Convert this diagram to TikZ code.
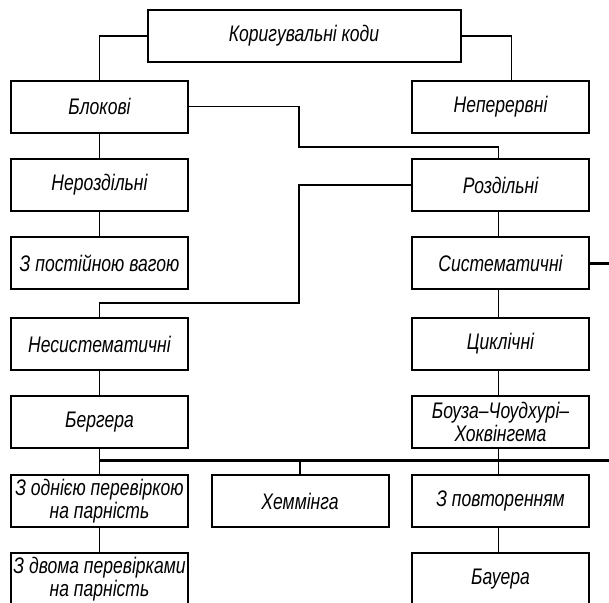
\documentclass[tikz,border=0pt]{standalone}
\usepackage{fontspec}
\setmainfont{Liberation Sans}[FakeStretch=0.78]

\begin{document}
\begin{tikzpicture}[x=1pt,y=-1pt,
  box/.style={draw, line width=2pt, minimum width=177pt, minimum height=52pt,
    inner sep=0pt, align=center, font=\fontsize{22.5}{23}\selectfont\itshape},
  link/.style={line width=1.8pt},
  bus/.style={line width=3pt}]
\useasboundingbox (0,0) rectangle (609,602);
\clip (0,0) rectangle (609,602);
\node[box, minimum width=313pt] (kod) at (304,36) {Коригувальні коди};
\node[box] (blok) at (99.5,106.5) {Блокові};
\node[box] (nep) at (500.5,106.5) {Неперервні};
\node[box] (nerozd) at (99.5,185) {Нероздільні};
\node[box] (rozd) at (500.5,185) {Роздільні};
\node[box] (postvag) at (99.5,263) {З постійною вагою};
\node[box] (system) at (500.5,263) {Систематичні};
\node[box] (nesys) at (99.5,344) {Несистематичні};
\node[box] (cykl) at (500.5,344) {Циклічні};
\node[box] (berg) at (99.5,422) {Бергера};
\node[box] (bch) at (500.5,422) {Боуза–Чоудхурі–\\Хоквінгема};
\node[box] (odna) at (99.5,501) {З однією перевіркою\\на парність};
\node[box] (hem) at (300,501) {Хеммінга};
\node[box] (povt) at (500.5,501) {З повторенням};
\node[box] (dvoma) at (99.5,579) {З двома перевірками\\на парність};
\node[box] (bauer) at (500.5,579) {Бауера};
\coordinate (k1) at (299,147);
\coordinate (k2) at (299,303);
\coordinate (sysend) at (615,263);
\coordinate (b0) at (99.5,460);
\coordinate (b1) at (615,460);
\draw[link] (kod.west) -| (blok.north);
\draw[link] (kod.east) -| ([xshift=11pt]nep.north);
\draw[link] (blok.east) -| (k1) -| ([xshift=-2pt]rozd.north);
\draw[link] (rozd.west) -| (k2) -| (nesys.north);
\draw[bus] (system.east) -- (sysend);
\draw[link] (blok) -- (nerozd) -- (postvag);
\draw[link] (nesys) -- (berg);
\draw[link] ([xshift=-2pt]rozd.south) -- ([xshift=-2pt]system.north);
\draw[link] ([xshift=-2pt]system.south) -- ([xshift=-2pt]cykl.north);
\draw[link] ([xshift=-2pt]cykl.south) -- ([xshift=-2pt]bch.north);
\draw[link] ([xshift=-2pt]bch.south) -- ([xshift=-2pt]povt.north);
\draw[link] ([xshift=-2pt]povt.south) -- ([xshift=-2pt]bauer.north);
\draw[bus] (b0) -- (b1);
\draw[link] (berg) -- (odna);
\draw[link] (odna) -- (dvoma);
\draw[link] (hem.north) -- (hem.north |- b0);
\end{tikzpicture}
\end{document}
